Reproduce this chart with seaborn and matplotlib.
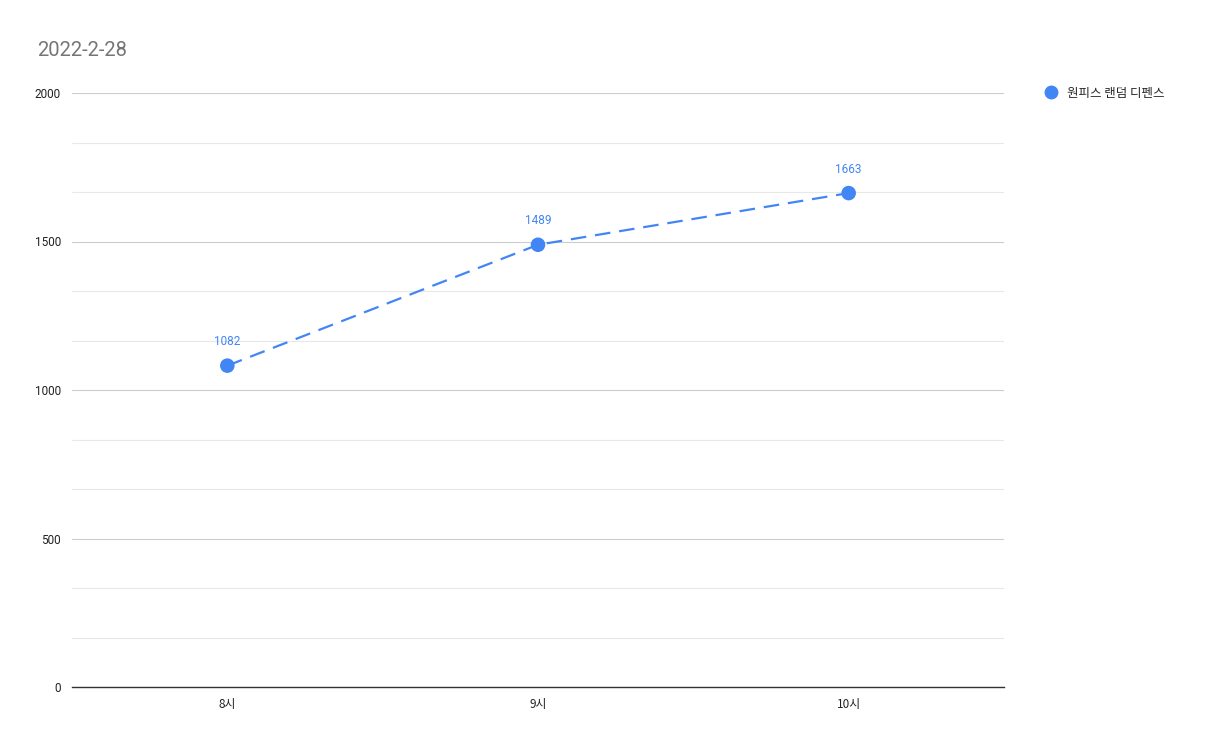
import matplotlib
matplotlib.use("Agg")
import matplotlib.pyplot as plt
import seaborn as sns
import pandas as pd
from matplotlib.ticker import MultipleLocator, FixedLocator

categories = ["8시", "9시", "10시"]
values = [1082, 1489, 1663]
series_name = "원피스 랜덤 디펜스"
title = "2022-2-28"

sns.set_theme(style="white")
plt.rcParams['font.family'] = ['Noto Sans CJK KR', 'Roboto', 'DejaVu Sans']

df = pd.DataFrame({"x": list(range(len(categories))), "y": values, "s": series_name})

fig = plt.figure(figsize=(12.05, 7.45), dpi=100)
ax = fig.add_axes([72/1205, 1 - 687/745, (1004-72)/1205, (687-93)/745])

color = "#4285f4"
sns.lineplot(data=df, x="x", y="y", ax=ax, color=color, linewidth=1.6,
             linestyle=(0, (7, 4)), legend=False, zorder=3)
sns.scatterplot(data=df, x="x", y="y", ax=ax, color=color, s=110, edgecolor="none",
                legend=False, zorder=4)

for i, v in enumerate(values):
    ax.annotate(str(v), (i, v), xytext=(0, 12.5), textcoords="offset points",
                ha="center", va="bottom", color=color, fontsize=8.5, family=['Roboto', 'DejaVu Sans'])

ax.set_xlim(-0.5, len(categories) - 0.5)
ax.set_ylim(0, 2000)
ax.set_xticks(range(len(categories)))
ax.set_xticklabels(categories)
ax.yaxis.set_major_locator(MultipleLocator(500))
minor = [k * 500 / 3 for k in range(13) if k % 3 != 0]
ax.yaxis.set_minor_locator(FixedLocator(minor))
ax.grid(axis="y", which="major", color="#cccccc", linewidth=0.8)
ax.grid(axis="y", which="minor", color="#e8e8e8", linewidth=0.8)
ax.set_axisbelow(True)
ax.tick_params(axis="both", which="both", length=0, labelsize=8.5, colors="#222222", pad=8)
for lbl in ax.get_yticklabels():
    lbl.set_fontfamily(['Roboto', 'DejaVu Sans'])
for s in ["top", "right", "left"]:
    ax.spines[s].set_visible(False)
ax.spines["bottom"].set_color("#333333")
ax.spines["bottom"].set_linewidth(1.0)
ax.set_xlabel("")
ax.set_ylabel("")

fig.text(37/1205, 1 - 51/745, title, fontsize=14.5, color="#757575", va="center", ha="left",
         family=['Roboto', 'DejaVu Sans'])

fig.legend(handles=[plt.Line2D([], [], marker="o", color=color, linestyle="none", markersize=9)],
           labels=[series_name], loc="center left", bbox_to_anchor=(1038/1205, 1 - 93/745),
           frameon=False, fontsize=9, handletextpad=0.35, borderaxespad=0, borderpad=0)

fig.savefig("out.png", dpi=100, facecolor="white")
